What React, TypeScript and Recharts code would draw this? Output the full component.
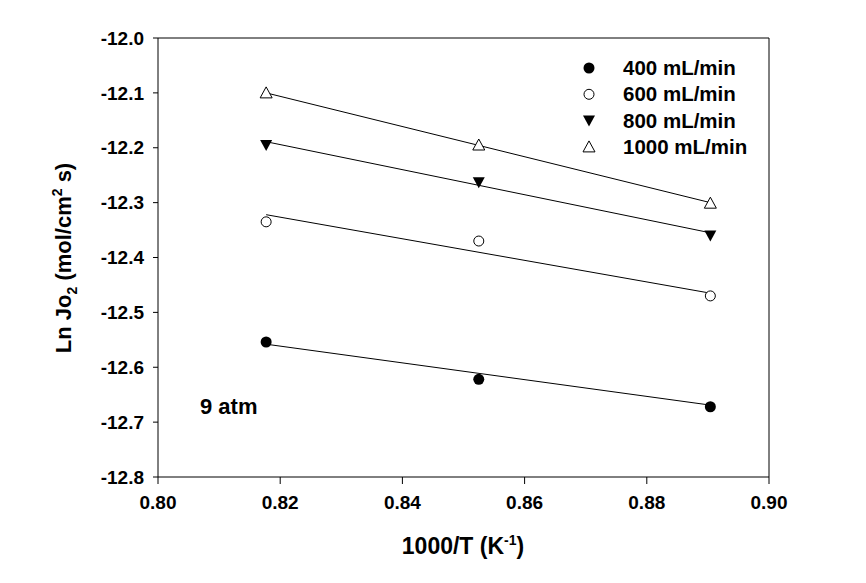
import React from 'react'
import {
  ComposedChart, Scatter, XAxis, YAxis, ReferenceLine, Customized,
} from 'recharts'

type Pt = { x: number; y: number }

// 1000/T for 950, 900, 850 °C
const invT = [0.8177, 0.8525, 0.8904]

const flow400 = [-12.554, -12.622, -12.672]
const flow600 = [-12.335, -12.370, -12.470]
const flow800 = [-12.195, -12.263, -12.360]
const flow1000 = [-12.100, -12.195, -12.301]

// fitted lines, read at the first and last temperature
const fitX = [0.8177, 0.8904]
const fit400 = [-12.558, -12.669]
const fit600 = [-12.322, -12.465]
const fit800 = [-12.189, -12.355]
const fit1000 = [-12.100, -12.300]

const xTicks = [0.8, 0.82, 0.84, 0.86, 0.88, 0.9]
const yTicks = [-12.8, -12.7, -12.6, -12.5, -12.4, -12.3, -12.2, -12.1, -12.0]

const legendNames = ['400 mL/min', '600 mL/min', '800 mL/min', '1000 mL/min']

const toPts = (ys: number[], xs: number[] = invT): Pt[] => ys.map((y, i) => ({ x: xs[i], y }))

const FONT = '"Liberation Sans", Arial, sans-serif'

const FilledCircle = (p: any) => <circle cx={p.cx} cy={p.cy} r={5.5} fill="#000" />
const OpenCircle = (p: any) => <circle cx={p.cx} cy={p.cy} r={5} fill="#fff" stroke="#000" strokeWidth={1} />
const DownTri = (p: any) => (
  <polygon points={`${p.cx - 6},${p.cy - 5} ${p.cx + 6},${p.cy - 5} ${p.cx},${p.cy + 6}`} fill="#000" />
)
const UpTri = (p: any) => (
  <polygon points={`${p.cx - 6},${p.cy + 5} ${p.cx + 6},${p.cy + 5} ${p.cx},${p.cy - 6}`} fill="#fff" stroke="#000" strokeWidth={1} />
)
const NoDot = () => <g />

const legendShapes = [FilledCircle, OpenCircle, DownTri, UpTri]

function Annotations() {
  return (
    <g fontFamily={FONT} fontWeight="bold" fill="#000">
      {legendNames.map((n, i) => {
        const Shape = legendShapes[i]
        const cy = 68 + i * 26.3
        return (
          <g key={n}>
            <Shape cx={589} cy={cy} />
            <text x={623} y={cy + 7} fontSize={20.5}>{n}</text>
          </g>
        )
      })}
      <text x={200} y={414} fontSize={22}>9 atm</text>
      <text x={463} y={554} fontSize={23} textAnchor="middle">
        1000/T (K<tspan dy={-9} fontSize={14}>-1</tspan><tspan dy={9}>)</tspan>
      </text>
      <text transform="translate(71,258) rotate(-90)" fontSize={22} textAnchor="middle">
        Ln Jo<tspan dy={6} fontSize={14}>2</tspan><tspan dy={-6}> (mol/cm</tspan><tspan dy={-9} fontSize={14}>2</tspan><tspan dy={9}> s)</tspan>
      </text>
    </g>
  )
}

const tickStyle = { fill: '#000', fontSize: 19, fontWeight: 'bold', fontFamily: FONT }

export default function App() {
  return (
    <div style={{ position: 'absolute', left: 0, top: 0, width: 866, height: 583, background: '#fff' }}>
      <ComposedChart width={866} height={583} margin={{ top: 38, right: 97, bottom: 66, left: 68 }}>
        <XAxis
          type="number" dataKey="x" domain={[0.8, 0.9]} ticks={xTicks} allowDataOverflow
          tickFormatter={(v: number) => v.toFixed(2)} tick={tickStyle} height={40}
          stroke="#000" tickSize={7} tickMargin={12}
        />
        <YAxis
          type="number" dataKey="y" domain={[-12.8, -12.0]} ticks={yTicks} allowDataOverflow
          tickFormatter={(v: number) => v.toFixed(1)} tick={tickStyle} width={90}
          stroke="#000" tickSize={5} tickMargin={9}
        />
        <ReferenceLine y={-12.0} stroke="#000" />
        <ReferenceLine x={0.9} stroke="#000" />

        <Scatter data={toPts(fit400, fitX)} line={{ stroke: '#000', strokeWidth: 1 }} shape={NoDot} isAnimationActive={false} legendType="none" />
        <Scatter data={toPts(fit600, fitX)} line={{ stroke: '#000', strokeWidth: 1 }} shape={NoDot} isAnimationActive={false} legendType="none" />
        <Scatter data={toPts(fit800, fitX)} line={{ stroke: '#000', strokeWidth: 1 }} shape={NoDot} isAnimationActive={false} legendType="none" />
        <Scatter data={toPts(fit1000, fitX)} line={{ stroke: '#000', strokeWidth: 1 }} shape={NoDot} isAnimationActive={false} legendType="none" />

        <Scatter name={legendNames[0]} data={toPts(flow400)} shape={FilledCircle} isAnimationActive={false} />
        <Scatter name={legendNames[1]} data={toPts(flow600)} shape={OpenCircle} isAnimationActive={false} />
        <Scatter name={legendNames[2]} data={toPts(flow800)} shape={DownTri} isAnimationActive={false} />
        <Scatter name={legendNames[3]} data={toPts(flow1000)} shape={UpTri} isAnimationActive={false} />

        <Customized component={Annotations} />
      </ComposedChart>
    </div>
  )
}
